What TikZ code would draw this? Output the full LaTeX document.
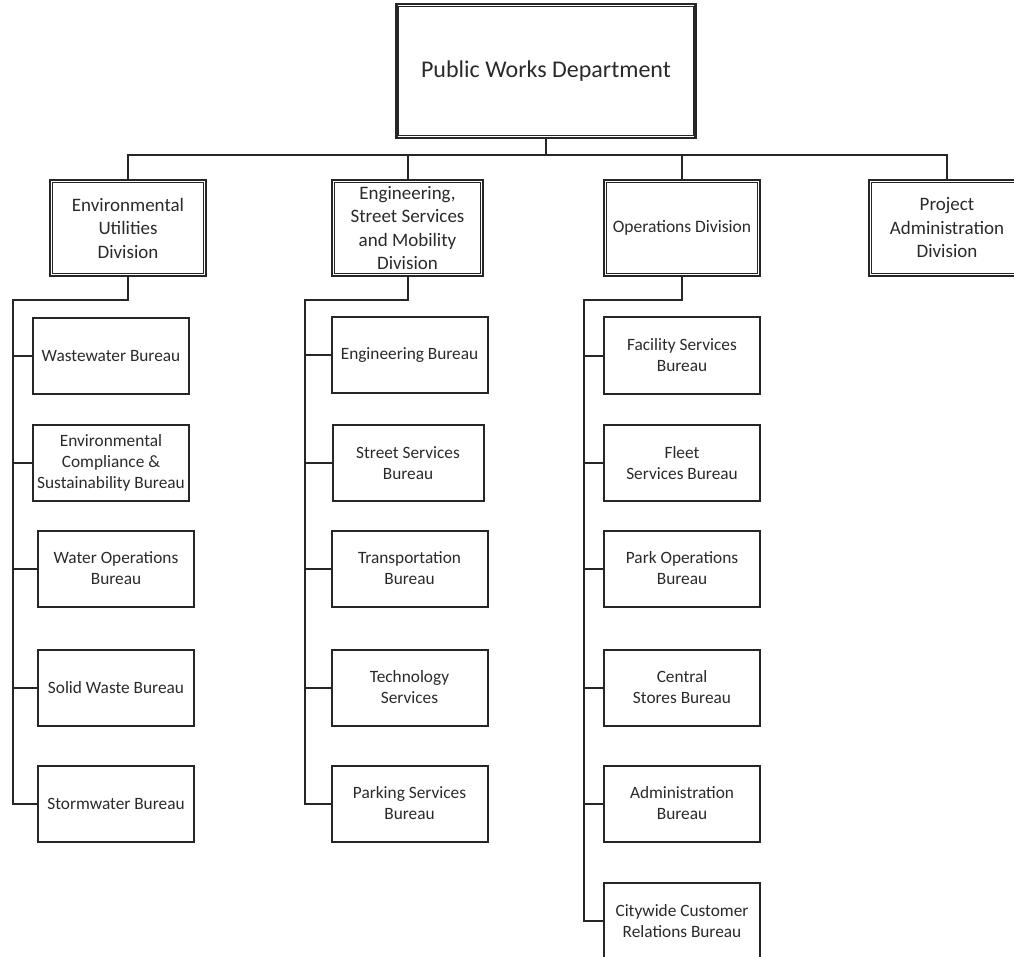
\documentclass[tikz,border=0pt]{standalone}
\usepackage{fontspec}
\setmainfont{Carlito}
\definecolor{ln}{HTML}{262626}
\definecolor{tx}{HTML}{2A2A2A}
\tikzset{
  x=1pt, y=-1pt,
  every node/.style={inner sep=0pt, align=center, text=tx},
  topbox/.style={draw=ln, line width=2.6pt, minimum width=299pt, minimum height=134pt,
    font=\fontsize{24}{28}\selectfont},
  divbox/.style={draw=ln, line width=2.6pt, minimum width=156pt, minimum height=96pt,
    font=\fontsize{19}{23.5}\selectfont},
  burbox/.style={draw=ln, line width=2pt, minimum width=156pt, minimum height=76pt,
    font=\fontsize{17.3}{21}\selectfont},
  inner/.style={draw=ln, line width=1.1pt},
  conn/.style={draw=ln, line width=2pt},
}
\begin{document}
\begin{tikzpicture}
\path[use as bounding box] (0,0) rectangle (1014,957);
\clip (0,0) rectangle (1014,957);
% top
\node[topbox] (pwd) at (546,71) {Public Works Department};
% divisions
\node[divbox] (env) at (128,228) {Environmental\\Utilities\\Division};
\node[divbox, minimum width=151pt] (eng) at (407.5,228) {Engineering,\\Street Services\\and Mobility\\Division};
\node[divbox, font=\fontsize{17.5}{22}\selectfont] (ops) at (682,228) {Operations Division};
\node[divbox] (proj) at (947,228) {Project\\Administration\\Division};
\foreach \n in {pwd,env,eng,ops,proj}{
  \draw[inner] ([shift={(3.5,3.5)}]\n.north west) rectangle ([shift={(-3.5,-3.5)}]\n.south east);
}
% column 1
\node[burbox] (e1) at (111,356) {Wastewater Bureau};
\node[burbox] (e2) at (111,462.5) {Environmental\\Compliance \&\\Sustainability Bureau};
\node[burbox] (e3) at (116,568.5) {Water Operations\\Bureau};
\node[burbox] (e4) at (116,687.5) {Solid Waste Bureau};
\node[burbox] (e5) at (116,803.5) {Stormwater Bureau};
% column 2
\node[burbox] (g1) at (409.5,355) {Engineering Bureau};
\node[burbox, minimum width=151pt] (g2) at (408,463) {Street Services\\Bureau};
\node[burbox] (g3) at (409.5,568.5) {Transportation\\Bureau};
\node[burbox] (g4) at (409.5,687.5) {Technology\\Services};
\node[burbox] (g5) at (409.5,803.5) {Parking Services\\Bureau};
% column 3
\node[burbox] (o1) at (682,355.5) {Facility Services\\Bureau};
\node[burbox] (o2) at (682,463) {Fleet\\Services Bureau};
\node[burbox] (o3) at (682,568.5) {Park Operations\\Bureau};
\node[burbox] (o4) at (682,687.5) {Central\\Stores Bureau};
\node[burbox] (o5) at (682,803.5) {Administration\\Bureau};
\node[burbox] (o6) at (682,921) {Citywide Customer\\Relations Bureau};
% bus coordinates
\coordinate (top) at (546,155);
\coordinate (b1) at (13,300);
\coordinate (b2) at (305,300);
\coordinate (b3) at (584,300);
% top connectors
\draw[conn] (pwd.south) -- (top);
\draw[conn] (env.north) |- (top) -| (proj.north);
\draw[conn] (eng.north) -- (eng.north |- top);
\draw[conn] (ops.north) -- (ops.north |- top);
% column buses
\draw[conn] (env.south) |- (b1) |- (e5.west);
\draw[conn] (eng.south) |- (b2) |- (g5.west);
\draw[conn] (ops.south) |- (b3) |- (o6.west);
\foreach \n in {e1,e2,e3,e4}{ \draw[conn] (\n.west) -- (\n.west -| b1); }
\foreach \n in {g1,g2,g3,g4}{ \draw[conn] (\n.west) -- (\n.west -| b2); }
\foreach \n in {o1,o2,o3,o4,o5}{ \draw[conn] (\n.west) -- (\n.west -| b3); }
\end{tikzpicture}
\end{document}
